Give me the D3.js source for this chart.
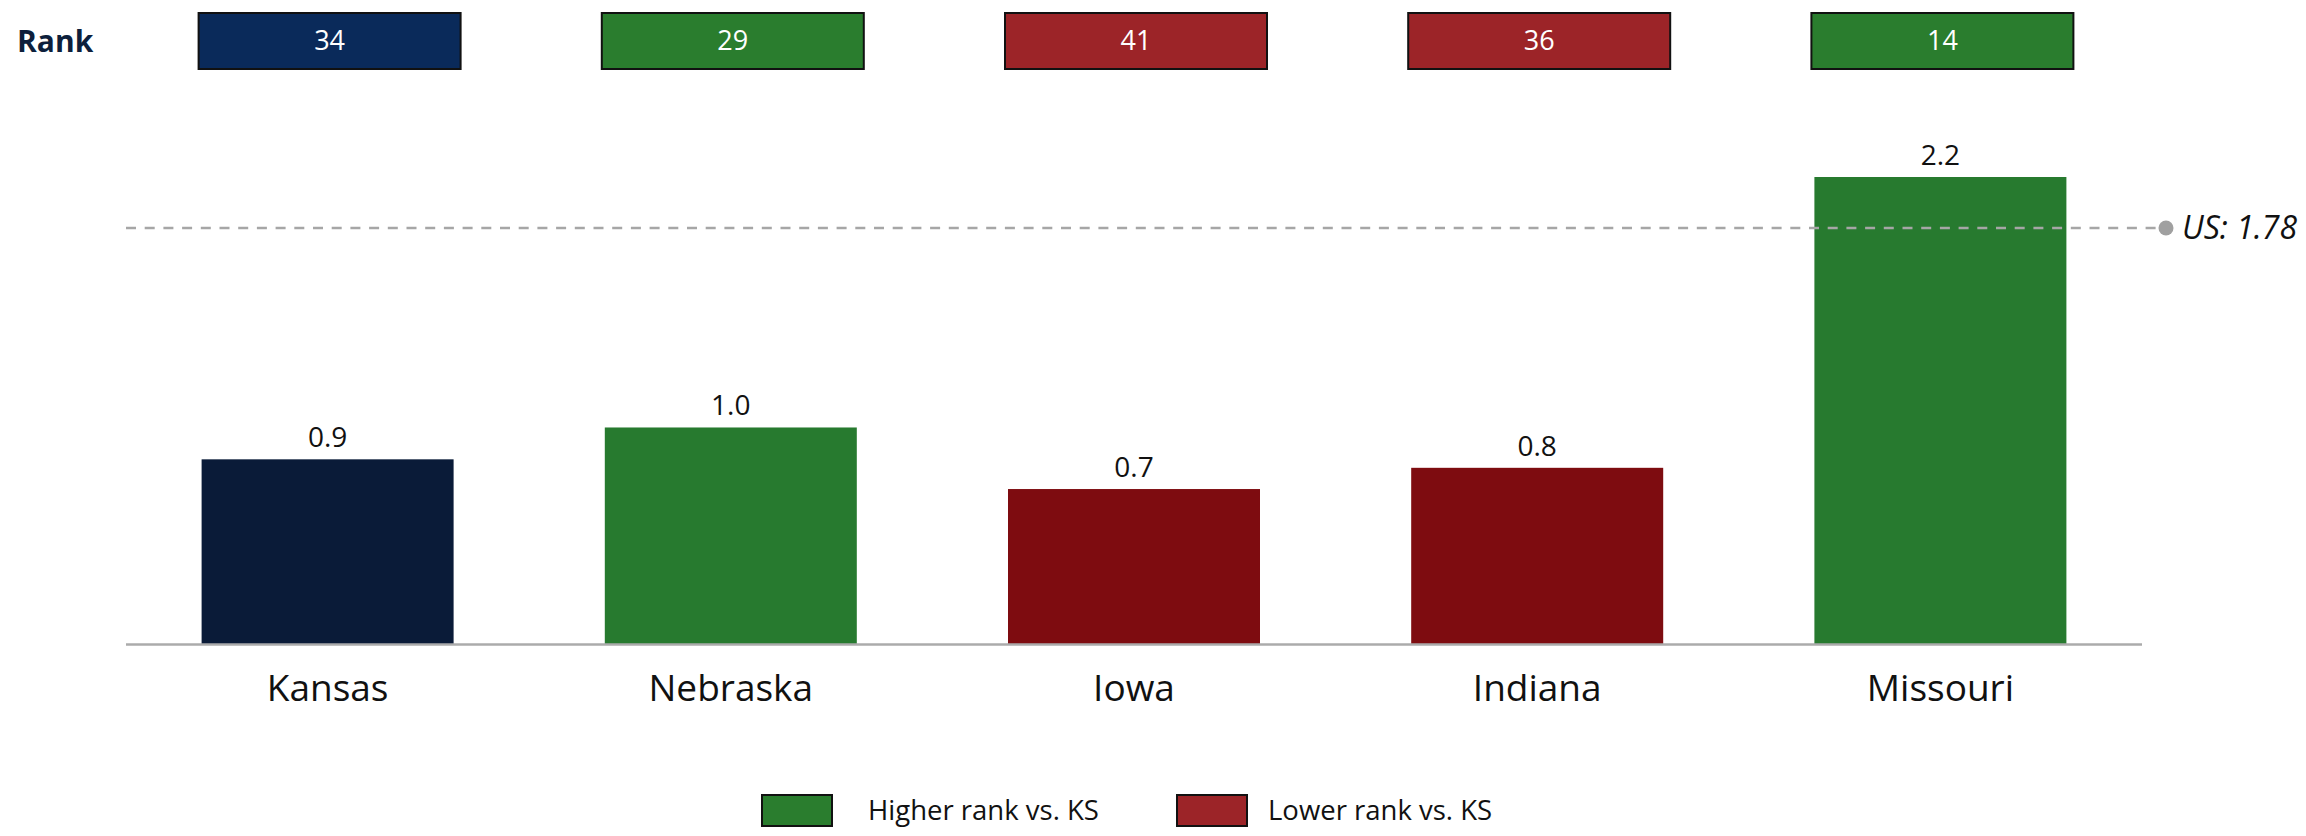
<!DOCTYPE html>
<html>
<head>
<meta charset="utf-8">
<script src="https://cdn.jsdelivr.net/npm/d3@7"></script>
<style>
  html, body { margin: 0; padding: 0; background: #ffffff; }
  svg { display: block; }
  text { font-family: "Open Sans", sans-serif; }
</style>
</head>
<body>
<svg id="chart" width="2306" height="836"></svg>
<script>
// ---- data ----
const states = ["Kansas", "Nebraska", "Iowa", "Indiana", "Missouri"];
const values = [0.87, 1.02, 0.73, 0.83, 2.2];
const valueLabels = ["0.9", "1.0", "0.7", "0.8", "2.2"];
const ranks = [34, 29, 41, 36, 14];
const groups = ["base", "higher", "lower", "lower", "higher"];
const usValue = 1.78;
const usLineLevel = 1.96; // level at which the US reference line is drawn in the original
const legendLabels = ["Higher rank vs. KS", "Lower rank vs. KS"];
const legendGroups = ["higher", "lower"];

// ---- styles ----
const barColor = { base: "#0a1b38", higher: "#277a2f", lower: "#7e0c10" };
const boxColor = { base: "#0a2a5a", higher: "#2a7d2e", lower: "#9c2428" };

const svg = d3.select("#chart");

const x = d3.scaleBand()
  .domain(states)
  .range([126, 2142])
  .paddingInner(0.375)
  .paddingOuter(0.1875);

const y = d3.scaleLinear().domain([0, 2.2]).range([644, 177]);

// rank label
svg.append("text")
  .attr("x", 17)
  .attr("y", 52)
  .attr("font-size", 30)
  .attr("font-weight", "bold")
  .attr("fill", "#0d1f3c")
  .text("Rank");

// rank boxes
const boxW = 262;
const rk = svg.append("g");
rk.selectAll("rect")
  .data(states)
  .join("rect")
  .attr("x", d => x(d) + x.bandwidth() / 2 - boxW / 2 + 2)
  .attr("y", 13)
  .attr("width", boxW)
  .attr("height", 56)
  .attr("fill", (d, i) => boxColor[groups[i]])
  .attr("stroke", "#111")
  .attr("stroke-width", 2);
rk.selectAll("text")
  .data(states)
  .join("text")
  .attr("x", d => x(d) + x.bandwidth() / 2 + 2)
  .attr("y", 50)
  .attr("text-anchor", "middle")
  .attr("font-size", 27)
  .attr("fill", "#ffffff")
  .text((d, i) => ranks[i]);

// bars
svg.append("g").selectAll("rect")
  .data(states)
  .join("rect")
  .attr("x", d => x(d))
  .attr("y", (d, i) => y(values[i]))
  .attr("width", x.bandwidth())
  .attr("height", (d, i) => y(0) - y(values[i]))
  .attr("fill", (d, i) => barColor[groups[i]]);

// value labels
svg.append("g").selectAll("text")
  .data(states)
  .join("text")
  .attr("x", d => x(d) + x.bandwidth() / 2)
  .attr("y", (d, i) => y(values[i]) - 12)
  .attr("text-anchor", "middle")
  .attr("font-size", 28)
  .attr("fill", "#111")
  .text((d, i) => valueLabels[i]);

// US reference line
const usY = y(usLineLevel);
svg.append("line")
  .attr("x1", 126).attr("x2", 2166)
  .attr("y1", usY).attr("y2", usY)
  .attr("stroke", "#a6a6a6")
  .attr("stroke-width", 2.5)
  .attr("stroke-dasharray", "10,8.7");
svg.append("circle")
  .attr("cx", 2166).attr("cy", usY).attr("r", 7.5)
  .attr("fill", "#a0a0a0");
svg.append("text")
  .attr("x", 2182).attr("y", usY + 11)
  .attr("font-size", 32)
  .attr("font-style", "italic")
  .attr("fill", "#111")
  .text("US: " + usValue.toFixed(2));

// x axis
const xAxis = svg.append("g")
  .attr("transform", `translate(0,${y(0)})`)
  .call(d3.axisBottom(x).tickSize(0).tickPadding(31));
xAxis.select(".domain").attr("stroke", "#ababab").attr("stroke-width", 2.5).attr("d", "M126,0.5H2142");
xAxis.selectAll(".tick text")
  .attr("font-size", 37)
  .attr("fill", "#111")
  .attr("font-family", "\"Open Sans\", sans-serif");

// legend
const legX = [762, 1177];
const lg = svg.append("g");
legendLabels.forEach((lab, i) => {
  lg.append("rect")
    .attr("x", legX[i]).attr("y", 795)
    .attr("width", 70).attr("height", 31)
    .attr("fill", boxColor[legendGroups[i]])
    .attr("stroke", "#111").attr("stroke-width", 2);
  lg.append("text")
    .attr("x", legX[i] + (i === 0 ? 106 : 91)).attr("y", 820)
    .attr("font-size", 27.5)
    .attr("fill", "#111")
    .text(lab);
});
</script>
</body>
</html>
